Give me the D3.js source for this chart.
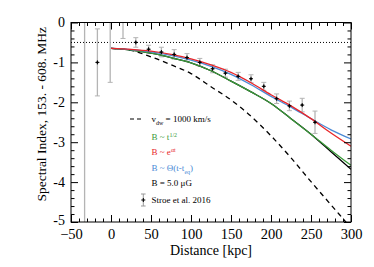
<!DOCTYPE html>
<html lang="en">
<head>
    <meta charset="UTF-8">
    <title>Spectral index vs distance</title>
    <script src="https://d3js.org/d3.v7.min.js"></script>
    <style>
        body { margin: 0; background: #fff; }
        svg { display: block; }
        svg text { font-family: "Liberation Serif", "Times New Roman", "DejaVu Serif", serif; }
    </style>
</head>
<body>
<script>
    // ---------------- data ----------------
    let distGrid = [0, 25, 50, 75, 100, 125, 150, 175, 200, 225, 250, 275, 300];
    let dashedVals = [-0.65, -0.70, -0.86, -1.06, -1.28, -1.61, -1.94, -2.35, -2.84, -3.39, -3.99, -4.57, -5.15];
    let greenVals  = [-0.65, -0.69, -0.77, -0.88, -1.01, -1.21, -1.47, -1.74, -2.03, -2.41, -2.80, -3.20, -3.58];
    let blackVals  = [-0.65, -0.69, -0.77, -0.88, -1.01, -1.21, -1.47, -1.74, -2.03, -2.41, -2.80, -3.24, -3.68];
    let redVals    = [-0.65, -0.675, -0.72, -0.80, -0.91, -1.06, -1.25, -1.51, -1.81, -2.09, -2.41, -2.77, -3.10];
    let blueVals   = [-0.65, -0.68, -0.735, -0.825, -0.945, -1.10, -1.30, -1.56, -1.85, -2.12, -2.41, -2.69, -2.92];

    let obsX   = [-33, -17, -1, 15, 31, 47, 63, 79, 95, 111, 127, 143, 159, 175, 191, 207, 223, 239, 255];
    let obsY   = [0.5, -1.0, 0.1, 0.2, -0.5, -0.67, -0.74, -0.8, -0.88, -1.0, -1.16, -1.27, -1.35, -1.41, -1.6, -1.91, -2.09, -2.07, -2.5];
    let obsErr = [6, 0.84, 1.6, 0.6, 0.12, 0.1, 0.12, 0.12, 0.1, 0.1, 0.1, 0.1, 0.1, 0.1, 0.1, 0.12, 0.12, 0.17, 0.28];

    let xTicks = [-50, 0, 50, 100, 150, 200, 250, 300];
    let yTicks = [0, -1, -2, -3, -4, -5];
    let refLevel = -0.5;

    // ---------------- layout ----------------
    let W = 374, H = 267;
    let L = 71, R = 351, T = 22.5, B = 222;
    let serif = "'Liberation Serif', 'Times New Roman', 'DejaVu Serif', serif";

    let svg = d3.select("body").append("svg")
                .attr("width", W)
                .attr("height", H)
                .attr("font-family", serif);

    let x = d3.scaleLinear().domain([-50, 300]).range([L, R]);
    let y = d3.scaleLinear().domain([-5, 0]).range([B, T]);

    svg.append("clipPath").attr("id", "clip")
       .append("rect")
       .attr("x", L).attr("y", T)
       .attr("width", R - L).attr("height", B - T);

    let plot = svg.append("g").attr("clip-path", "url(#clip)");

    // dotted reference line
    plot.append("line")
        .attr("x1", x(-50)).attr("x2", x(300))
        .attr("y1", y(refLevel)).attr("y2", y(refLevel))
        .attr("stroke", "#000")
        .attr("stroke-width", 1)
        .attr("stroke-dasharray", "1,2");

    // error bars
    let obs = obsX.map((d, i) => ({x: d, y: obsY[i], e: obsErr[i]}));
    let eb = plot.selectAll(".eb").data(obs).enter().append("g");
    eb.append("line")
      .attr("x1", d => x(d.x)).attr("x2", d => x(d.x))
      .attr("y1", d => y(d.y + d.e)).attr("y2", d => y(d.y - d.e))
      .attr("stroke", "#b4b4b4").attr("stroke-width", 1.3);
    eb.append("line")
      .attr("x1", d => x(d.x) - 2.5).attr("x2", d => x(d.x) + 2.5)
      .attr("y1", d => y(d.y + d.e)).attr("y2", d => y(d.y + d.e))
      .attr("stroke", "#b4b4b4").attr("stroke-width", 1);
    eb.append("line")
      .attr("x1", d => x(d.x) - 2.5).attr("x2", d => x(d.x) + 2.5)
      .attr("y1", d => y(d.y - d.e)).attr("y2", d => y(d.y - d.e))
      .attr("stroke", "#b4b4b4").attr("stroke-width", 1);

    // model curves
    let line = d3.line()
                 .x(d => x(d[0]))
                 .y(d => y(d[1]))
                 .curve(d3.curveMonotoneX);
    let curves = [
        {vals: dashedVals, color: "#000", dash: "5,4"},
        {vals: blackVals, color: "#000", dash: null},
        {vals: greenVals, color: "#3a9a3a", dash: null},
        {vals: blueVals, color: "#4a8ad6", dash: null},
        {vals: redVals, color: "#e8262a", dash: null}
    ];
    curves.forEach(c => {
        plot.append("path")
            .attr("d", line(distGrid.map((d, i) => [d, c.vals[i]])))
            .attr("fill", "none")
            .attr("stroke", c.color)
            .attr("stroke-width", 1.3)
            .attr("stroke-dasharray", c.dash);
    });

    // data markers
    let mk = plot.selectAll(".mk").data(obs).enter().append("g");
    mk.append("line")
      .attr("x1", d => x(d.x) - 2).attr("x2", d => x(d.x) + 2)
      .attr("y1", d => y(d.y)).attr("y2", d => y(d.y))
      .attr("stroke", "#000").attr("stroke-width", 1);
    mk.append("line")
      .attr("x1", d => x(d.x)).attr("x2", d => x(d.x))
      .attr("y1", d => y(d.y) - 2).attr("y2", d => y(d.y) + 2)
      .attr("stroke", "#000").attr("stroke-width", 1);
    mk.append("circle")
      .attr("cx", d => x(d.x)).attr("cy", d => y(d.y))
      .attr("r", 1.1).attr("fill", "#000");

    // ---------------- axes (ticks inside, IDL style) ----------------
    let xMinor = d3.range(-50, 301, 10).filter(v => v % 50 !== 0);
    let yMinor = d3.range(-50, 1, 2).map(v => v / 10).filter(v => Math.abs(v % 1) > 0.01);

    function axisG(axis, tr) {
        let g = svg.append("g").attr("transform", tr).call(axis);
        g.attr("font-family", serif);
        g.select(".domain").remove();
        g.selectAll("line").attr("stroke", "#000");
        return g;
    }

    let gx = axisG(d3.axisBottom(x).tickValues(xTicks).tickSize(-7).tickPadding(6.5).tickFormat(d3.format("d")),
                   `translate(0,${B})`);
    gx.selectAll("text").attr("font-size", 14.5).attr("fill", "#000");
    axisG(d3.axisBottom(x).tickValues(xMinor).tickSize(-3.5).tickFormat(""), `translate(0,${B})`);
    axisG(d3.axisTop(x).tickValues(xTicks).tickSize(-7).tickFormat(""), `translate(0,${T})`);
    axisG(d3.axisTop(x).tickValues(xMinor).tickSize(-3.5).tickFormat(""), `translate(0,${T})`);

    let gy = axisG(d3.axisLeft(y).tickValues(yTicks).tickSize(-7).tickPadding(6).tickFormat(d3.format("d")),
                   `translate(${L},0)`);
    gy.selectAll("text").attr("font-size", 14).attr("fill", "#000")
      .text(d => d === 0 ? "0" : "-" + Math.abs(d));
    gy.selectAll(".tick").filter(d => d === -5).select("text").attr("dy", "0.2em");
    axisG(d3.axisLeft(y).tickValues(yMinor).tickSize(-3.5).tickFormat(""), `translate(${L},0)`);
    axisG(d3.axisRight(y).tickValues(yTicks).tickSize(-7).tickFormat(""), `translate(${R},0)`);
    axisG(d3.axisRight(y).tickValues(yMinor).tickSize(-3.5).tickFormat(""), `translate(${R},0)`);

    svg.append("rect")
       .attr("x", L).attr("y", T)
       .attr("width", R - L).attr("height", B - T)
       .attr("fill", "none").attr("stroke", "#000").attr("stroke-width", 1);

    // axis titles
    svg.append("text")
       .attr("x", (L + R) / 2).attr("y", 255)
       .attr("text-anchor", "middle")
       .attr("font-size", 14)
       .text("Distance [kpc]");

    svg.append("text")
       .attr("transform", `translate(46,${(T + B) / 2 - 8}) rotate(-90)`)
       .attr("text-anchor", "middle")
       .attr("font-size", 13.5)
       .text("Spectral Index, 153. - 608. MHz");

    // ---------------- legend ----------------
    let lx = 151.5, fs = 9;
    let leg = svg.append("g").attr("font-size", fs);

    leg.append("line")
       .attr("x1", 130).attr("x2", 144).attr("y1", 119).attr("y2", 119)
       .attr("stroke", "#000").attr("stroke-width", 1.1).attr("stroke-dasharray", "4,3");

    function entry(yy, color, parts) {
        let t = leg.append("text").attr("x", lx).attr("y", yy + 3).attr("fill", color);
        parts.forEach(p => {
            let s = t.append("tspan").text(p[0]);
            if (p[1] === "sup") s.attr("baseline-shift", "super").attr("font-size", 6);
            if (p[1] === "sub") s.attr("baseline-shift", "sub").attr("font-size", 6);
        });
    }
    entry(119, "#000", [["v"], ["dw", "sub"], [" = 1000 km/s"]]);
    entry(136.5, "#3a9a3a", [["B ~ t"], ["1/2", "sup"]]);
    entry(152.3, "#e8262a", [["B ~ e"], ["\u03b1t", "sup"]]);
    entry(167.8, "#4a8ad6", [["B ~ \u0398(t-t"], ["eq", "sub"], [")"]]);
    entry(183.3, "#000", [["B = 5.0 \u03bcG"]]);
    entry(200, "#000", [["Stroe et al. 2016"]]);

    leg.append("line")
       .attr("x1", 143.3).attr("x2", 143.3).attr("y1", 194).attr("y2", 206)
       .attr("stroke", "#999").attr("stroke-width", 1);
    leg.append("line").attr("x1", 141).attr("x2", 145.6).attr("y1", 194).attr("y2", 194)
       .attr("stroke", "#999");
    leg.append("line").attr("x1", 141).attr("x2", 145.6).attr("y1", 206).attr("y2", 206)
       .attr("stroke", "#999");
    leg.append("line").attr("x1", 141.3).attr("x2", 145.3).attr("y1", 200).attr("y2", 200)
       .attr("stroke", "#000");
    leg.append("line").attr("x1", 143.3).attr("x2", 143.3).attr("y1", 198).attr("y2", 202)
       .attr("stroke", "#000");
</script>
</body>
</html>
